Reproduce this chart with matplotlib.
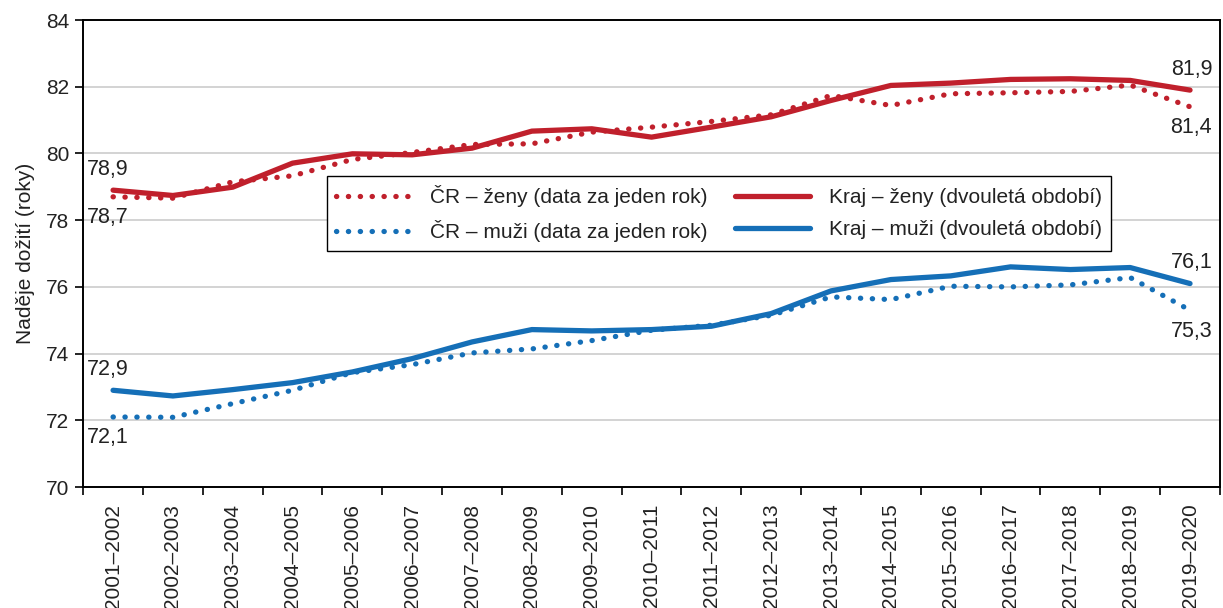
import matplotlib
matplotlib.use("Agg")
import matplotlib.pyplot as plt
import numpy as np

plt.rcParams['font.family'] = ['Liberation Sans', 'DejaVu Sans']

# obdobi (dvoulete)
periods = ["2001–2002", "2002–2003", "2003–2004", "2004–2005", "2005–2006",
           "2006–2007", "2007–2008", "2008–2009", "2009–2010", "2010–2011",
           "2011–2012", "2012–2013", "2013–2014", "2014–2015", "2015–2016",
           "2016–2017", "2017–2018", "2018–2019", "2019–2020"]

cr_zeny = [78.7, 78.66, 79.15, 79.33, 79.82, 80.03, 80.27, 80.29, 80.64, 80.79,
           80.96, 81.16, 81.74, 81.44, 81.79, 81.82, 81.86, 82.05, 81.4]
kraj_zeny = [78.9, 78.74, 78.99, 79.71, 79.99, 79.96, 80.16, 80.67, 80.74, 80.49,
             80.79, 81.1, 81.59, 82.04, 82.11, 82.22, 82.24, 82.19, 81.9]
cr_muzi = [72.1, 72.09, 72.5, 72.9, 73.43, 73.67, 74.02, 74.14, 74.39, 74.7,
           74.85, 75.15, 75.7, 75.62, 76.02, 76.0, 76.06, 76.28, 75.3]
kraj_muzi = [72.9, 72.73, 72.92, 73.13, 73.45, 73.85, 74.35, 74.72, 74.68, 74.72,
             74.82, 75.2, 75.88, 76.22, 76.33, 76.6, 76.52, 76.58, 76.1]

red = '#c0202c'
blue = '#156fb7'

fig = plt.figure(figsize=(12.23, 6.08), dpi=100)
ax = fig.add_axes([0.068, 0.199, 0.9295, 0.768])

x = np.arange(len(periods))
dots = (0, (0.05, 2.2))

l1, = ax.plot(x, cr_zeny, color=red, lw=3.8, linestyle=dots, dash_capstyle='round',
              label="ČR – ženy (data za jeden rok)")
l2, = ax.plot(x, cr_muzi, color=blue, lw=3.8, linestyle=dots, dash_capstyle='round',
              label="ČR – muži (data za jeden rok)")
l3, = ax.plot(x, kraj_zeny, color=red, lw=3.8, solid_capstyle='round',
              label="Kraj – ženy (dvouletá období)")
l4, = ax.plot(x, kraj_muzi, color=blue, lw=3.8, solid_capstyle='round',
              label="Kraj – muži (dvouletá období)")

ax.set_ylim(70, 84)
ax.set_xlim(-0.5, 18.36)
ax.set_yticks(np.arange(70, 85, 2))
ax.tick_params(axis='y', labelsize=15, length=6, width=1.2, direction='out', pad=4,
               labelcolor='#222222')
ax.grid(axis='y', color='#c8c8c8', lw=1.1)
ax.set_axisbelow(True)

ax.set_xticks(x)
ax.set_xticklabels(periods, rotation=90, fontsize=15, color='#222222')
ax.tick_params(axis='x', which='major', length=0, pad=12)
ax.set_xticks(np.arange(-0.5, 18.6, 1), minor=True)
ax.tick_params(axis='x', which='minor', length=6, width=1.2, direction='out')

for s in ax.spines.values():
    s.set_color('black')
    s.set_linewidth(1.4)

ax.set_ylabel("Naděje dožití (roky)", fontsize=15, labelpad=8, color='#222222')

# popisky hodnot na zacatku a konci
def label(xi, val, above, dx=0):
    off = 15 if above else -15
    ax.annotate(f"{val:.1f}".replace('.', ','), (xi, val), xytext=(dx, off),
                textcoords='offset points', ha='center', va='center', fontsize=15.5,
                color='#222222')

label(0, kraj_zeny[0], True, -4)
label(0, cr_zeny[0], False, -4)
label(0, kraj_muzi[0], True, -4)
label(0, cr_muzi[0], False, -4)
label(18, kraj_zeny[-1], True, 1)
label(18, cr_zeny[-1], False, 1)
label(18, kraj_muzi[-1], True, 1)
label(18, cr_muzi[-1], False, 1)

leg = ax.legend(handles=[l1, l2, l3, l4], ncol=2, loc='upper left',
                bbox_to_anchor=(0.2146, 0.666), borderaxespad=0, fontsize=15,
                frameon=True, fancybox=False, framealpha=1, edgecolor='black',
                handlelength=3.6, handletextpad=0.9, columnspacing=1.3,
                labelspacing=0.6, borderpad=0.45)
leg.get_frame().set_linewidth(1.0)
for t in leg.get_texts():
    t.set_color('#222222')

fig.savefig("out.png", dpi=100)
